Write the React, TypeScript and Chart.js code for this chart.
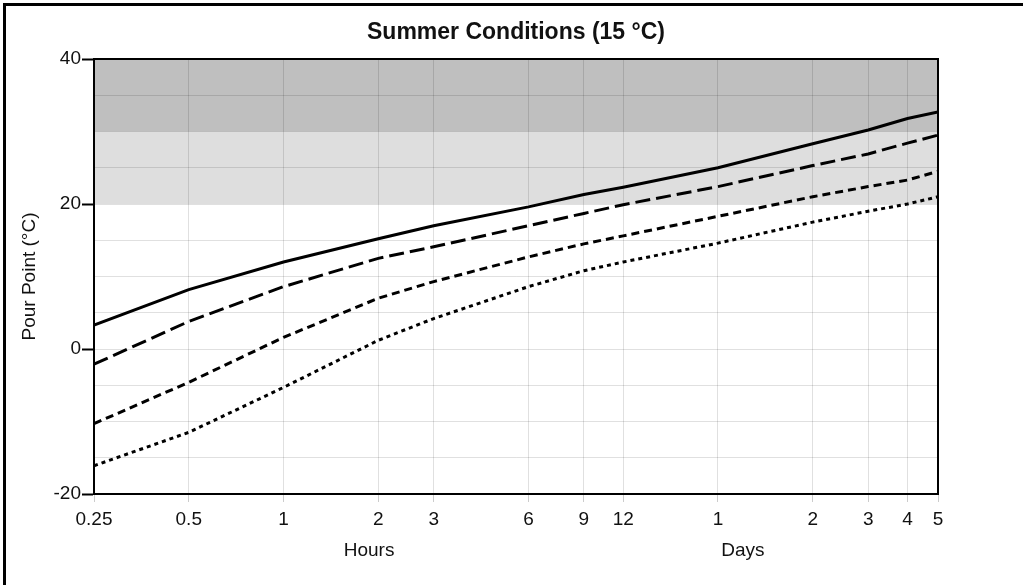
import React, { useEffect, useRef } from "react";
import { Chart, registerables } from "chart.js";

Chart.register(...registerables);

// ---- data ----
const hours = [0.25, 0.5, 1, 2, 3, 6, 9, 12, 24, 48, 72, 96, 120];
const xTickLabels = ["0.25", "0.5", "1", "2", "3", "6", "9", "12", "1", "2", "3", "4", "5"];
const solidSeries = [3.3, 8.2, 12.0, 15.2, 17.0, 19.6, 21.3, 22.3, 25.0, 28.3, 30.2, 31.8, 32.7];
const longDashSeries = [-2.1, 3.8, 8.6, 12.5, 14.1, 17.0, 18.7, 19.9, 22.4, 25.3, 26.9, 28.4, 29.5];
const dashSeries = [-10.3, -4.6, 1.6, 7.0, 9.3, 12.7, 14.5, 15.6, 18.3, 21.0, 22.4, 23.3, 24.5];
const dotSeries = [-16.1, -11.5, -5.3, 1.2, 4.2, 8.6, 10.8, 12.0, 14.6, 17.5, 19.0, 20.0, 21.0];
const yMin = -20;
const yMax = 40;
const yStep = 5;
const yLabelEvery = 20;
const bandFrom = [20, 30];
const bandTo = [30, 40];
const bandColors = ["#dedede", "#bfbfbf"];
const titleText = "Summer Conditions (15 °C)";
const yTitleText = "Pour Point (°C)";
const groupLabels = ["Hours", "Days"];
const groupAnchors = [1.87, 28.8]; // x-values (hours) where group labels are centered

const FONT = '"Liberation Sans", Arial, sans-serif';
const TEXT = "#111";

const decorPlugin = {
  id: "decor",
  beforeDraw(chart: any) {
    const { ctx, chartArea, scales } = chart;
    const y = scales.y;
    ctx.save();
    for (let i = 0; i < bandFrom.length; i++) {
      const top = y.getPixelForValue(bandTo[i]);
      const bottom = y.getPixelForValue(bandFrom[i]);
      ctx.fillStyle = bandColors[i];
      ctx.fillRect(chartArea.left, top, chartArea.right - chartArea.left, bottom - top);
    }
    ctx.restore();
  },
  afterDraw(chart: any) {
    const { ctx, chartArea, scales } = chart;
    const { left, right, top, bottom } = chartArea;
    ctx.save();
    ctx.strokeStyle = "#000";
    ctx.lineWidth = 2;
    ctx.beginPath();
    ctx.moveTo(left - 1, top);
    ctx.lineTo(right, top);
    ctx.lineTo(right, bottom + 1);
    ctx.stroke();

    ctx.fillStyle = TEXT;
    ctx.textAlign = "center";
    ctx.textBaseline = "middle";
    ctx.font = `bold 23px ${FONT}`;
    ctx.fillText(titleText, (left + right) / 2, 33);

    ctx.font = `19px ${FONT}`;
    for (let i = 0; i < groupLabels.length; i++) {
      ctx.fillText(groupLabels[i], scales.x.getPixelForValue(groupAnchors[i]), 551);
    }

    ctx.translate(30, (top + bottom) / 2);
    ctx.rotate(-Math.PI / 2);
    ctx.fillText(yTitleText, 0, 0);
    ctx.restore();
  },
};

export default function App() {
  const canvasRef = useRef<HTMLCanvasElement | null>(null);

  useEffect(() => {
    if (!canvasRef.current) return;
    const mk = (label: string, data: number[], dash: number[]) => ({
      label,
      data: hours.map((h, i) => ({ x: h, y: data[i] })),
      borderColor: "#000",
      borderWidth: 3,
      borderDash: dash,
      borderCapStyle: "butt" as const,
      pointRadius: 0,
      tension: 0,
      fill: false,
    });
    const chart = new Chart(canvasRef.current, {
      type: "line",
      data: {
        datasets: [
          mk("solid", solidSeries, []),
          mk("long dash", longDashSeries, [15, 6]),
          mk("dash", dashSeries, [8, 5]),
          mk("dot", dotSeries, [4, 4]),
        ],
      },
      options: {
        animation: false,
        responsive: false,
        maintainAspectRatio: false,
        layout: { padding: { top: 59, right: 85, bottom: 0, left: 0 } },
        plugins: {
          legend: { display: false },
          tooltip: { enabled: false },
          title: { display: false },
        },
        scales: {
          x: {
            type: "logarithmic",
            min: hours[0],
            max: hours[hours.length - 1],
            afterBuildTicks: (scale: any) => {
              scale.ticks = hours.map((v) => ({ value: v }));
            },
            afterFit: (scale: any) => {
              scale.height = 91;
            },
            ticks: {
              autoSkip: false,
              maxRotation: 0,
              minRotation: 0,
              padding: 6,
              color: TEXT,
              font: { family: FONT, size: 19 },
              callback: (_v: any, idx: number) => xTickLabels[idx],
            },
            grid: {
              color: "rgba(0,0,0,0.12)",
              lineWidth: 1,
              tickColor: "rgba(0,0,0,0.2)",
              tickLength: 8,
              tickWidth: 1,
            },
            border: { color: "#000", width: 2 },
          },
          y: {
            type: "linear",
            min: yMin,
            max: yMax,
            afterFit: (scale: any) => {
              scale.width = 94;
            },
            ticks: {
              stepSize: yStep,
              padding: 1,
              color: TEXT,
              font: { family: FONT, size: 19 },
              callback: (v: any) => (Number(v) % yLabelEvery === 0 ? String(v) : ""),
            },
            grid: {
              color: "rgba(0,0,0,0.12)",
              lineWidth: 1,
              tickLength: 12,
              tickWidth: 2,
              tickColor: (c: any) =>
                c.tick && c.tick.value % yLabelEvery === 0 ? "#000" : "rgba(0,0,0,0)",
            },
            border: { color: "#000", width: 2 },
          },
        },
      } as any,
      plugins: [decorPlugin],
    });
    return () => chart.destroy();
  }, []);

  return (
    <div
      style={{
        position: "fixed",
        left: 0,
        top: 0,
        width: 1023,
        height: 585,
        background: "#fff",
        overflow: "hidden",
      }}
    >
      <canvas
        ref={canvasRef}
        width={1023}
        height={585}
        style={{ position: "absolute", left: 0, top: 0, width: 1023, height: 585 }}
      />
      <div
        style={{
          position: "absolute",
          left: 3,
          top: 3,
          right: 0,
          bottom: 0,
          borderTop: "3px solid #000",
          borderLeft: "3px solid #000",
          pointerEvents: "none",
        }}
      />
    </div>
  );
}
